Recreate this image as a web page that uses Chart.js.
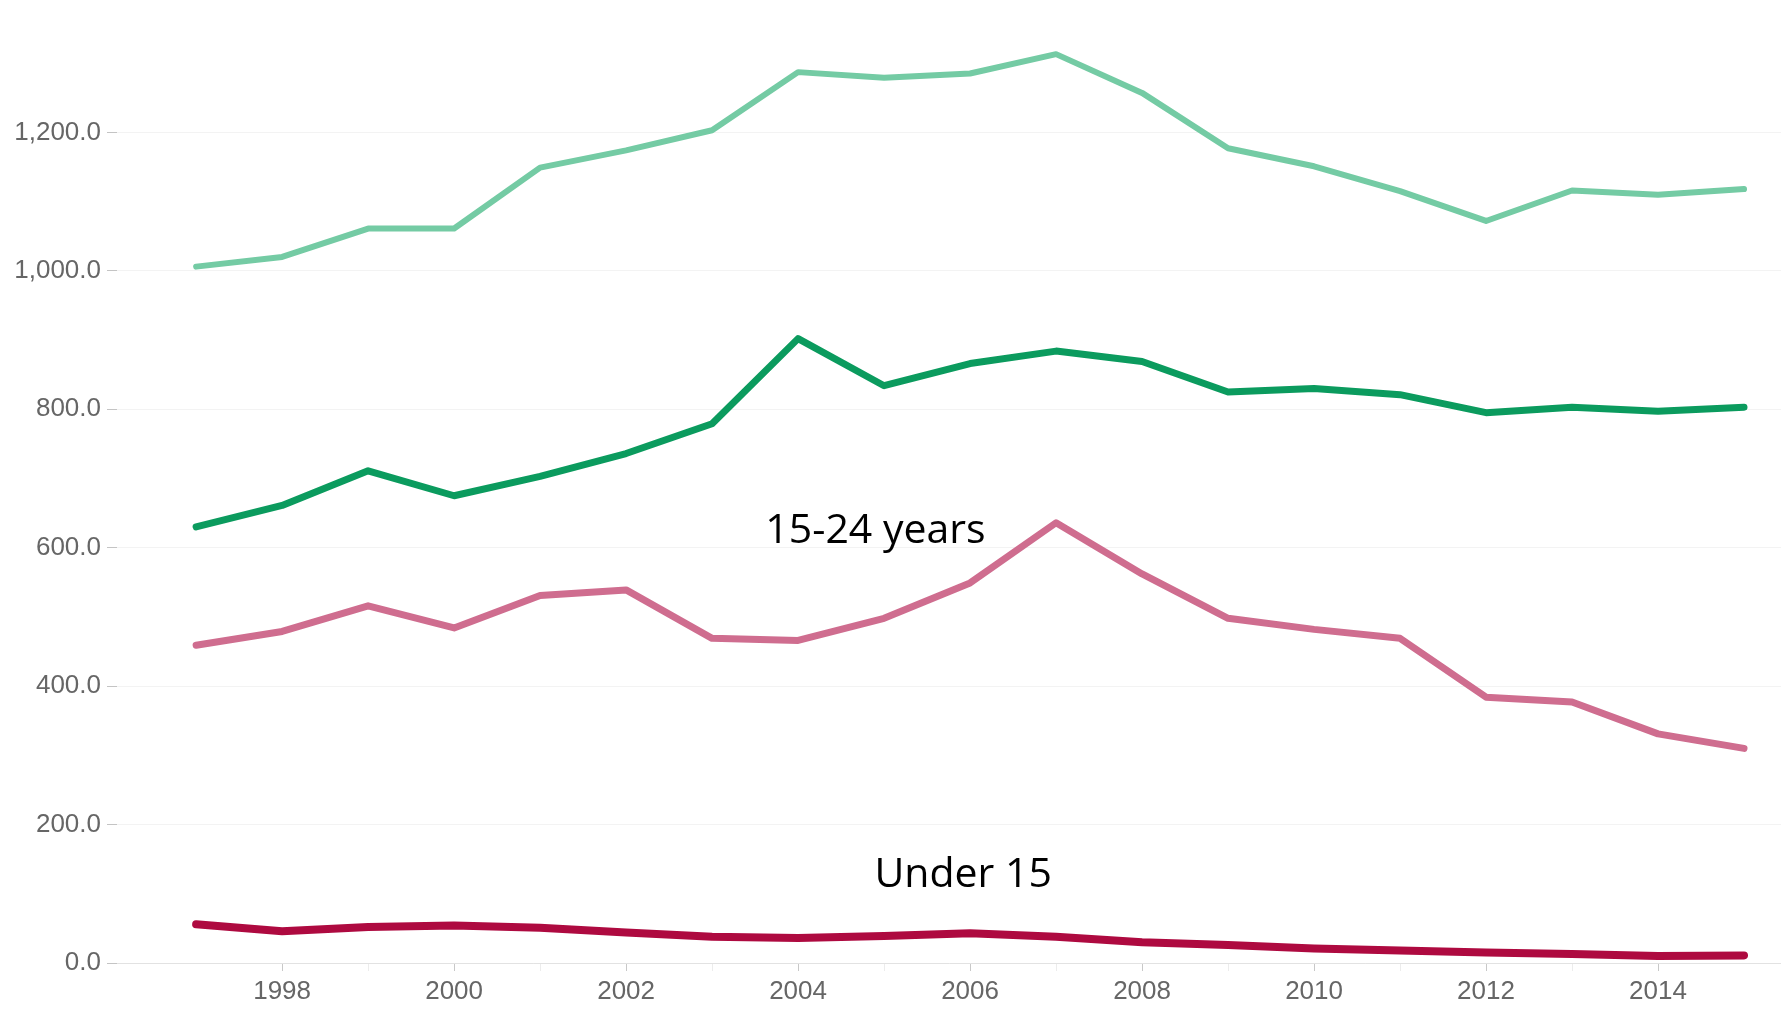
<!DOCTYPE html>
<html>
<head>
<meta charset="utf-8">
<script src="https://cdn.jsdelivr.net/npm/chart.js@4/dist/chart.umd.min.js"></script>
<style>
  body { margin: 0; background: #fff; }
  .grafico { width: 1781px; height: 1030px; position: relative; }
</style>
</head>
<body>
<div class="grafico"><canvas id="graficoIdade"></canvas></div>
<script>
// dados
const anos = [1997, 1998, 1999, 2000, 2001, 2002, 2003, 2004, 2005, 2006, 2007, 2008, 2009, 2010, 2011, 2012, 2013, 2014, 2015];

const serieVerdeClaro = [1006, 1020, 1061, 1061, 1149, 1174, 1203, 1287, 1279, 1285, 1313, 1257, 1177, 1151, 1115, 1072, 1116, 1110, 1118];
const serieVerde = [630, 661, 711, 675, 703, 736, 779, 902, 834, 866, 884, 869, 825, 830, 821, 795, 803, 797, 803];
const serie15a24 = [459, 479, 516, 484, 531, 539, 469, 466, 498, 549, 636, 562, 498, 482, 469, 384, 377, 331, 310];
const serieMenor15 = [56, 46, 52, 54, 51, 44, 38, 36, 39, 43, 38, 30, 26, 21, 18, 15, 13, 10, 11];

const valoresEixoY = [0, 200, 400, 600, 800, 1000, 1200];

const rotulos = [
  { texto: '15-24 years', ano: 2004.9, valor: 624 },
  { texto: 'Under 15', ano: 2005.92, valor: 127 },
];

function linha(valores, cor, largura) {
  return {
    data: valores.map((v, i) => ({ x: anos[i], y: v })),
    borderColor: cor,
    backgroundColor: cor,
    borderWidth: largura,
    pointRadius: 0,
    tension: 0,
    borderJoinStyle: 'round',
    borderCapStyle: 'round',
  };
}

// escreve os rotulos das series
const pluginRotulos = {
  id: 'pluginRotulos',
  afterDatasetsDraw(chart) {
    const { ctx, scales: { x, y } } = chart;
    ctx.save();
    ctx.font = '41px "Open Sans"';
    ctx.fillStyle = '#000';
    ctx.textAlign = 'center';
    ctx.textBaseline = 'middle';
    rotulos.forEach(r => {
      ctx.fillText(r.texto, x.getPixelForValue(r.ano), y.getPixelForValue(r.valor));
    });
    ctx.restore();
  }
};

const fonteEixo = { family: '"Liberation Sans", Arial, sans-serif', size: 26 };

const config = {
  type: 'line',
  data: {
    datasets: [
      linha(serieVerdeClaro, '#74cba4', 6),
      linha(serieVerde, '#0b9b5e', 7),
      linha(serie15a24, '#cf6d8f', 7),
      linha(serieMenor15, '#ae0a40', 8),
    ]
  },
  options: {
    responsive: true,
    maintainAspectRatio: false,
    animation: false,
    layout: { padding: 0 },
    plugins: {
      legend: { display: false },
      tooltip: { enabled: false },
    },
    scales: {
      x: {
        type: 'linear',
        min: 1996.08,
        max: 2015.43,
        afterBuildTicks: s => { s.ticks = s.ticks.filter(t => Number.isInteger(t.value)); },
        afterFit: s => { s.height = 67; },
        border: { display: true, color: '#e2e2e2', width: 1 },
        grid: {
          drawOnChartArea: false,
          tickLength: 8,
          tickColor: c => (c.tick && c.tick.value % 2 === 0) ? '#c8c8c8' : '#ececec',
        },
        ticks: {
          stepSize: 1,
          autoSkip: false,
          maxRotation: 0,
          padding: 5,
          color: '#666',
          font: fonteEixo,
          callback: v => v % 2 === 0 ? String(v) : '',
        }
      },
      y: {
        min: 0,
        max: 1360,
        afterBuildTicks: s => { s.ticks = valoresEixoY.map(v => ({ value: v })); },
        afterFit: s => { s.width = 117; },
        border: { display: false },
        grid: {
          color: '#f3f3f3',
          tickLength: 10,
          tickColor: '#c4c4c4',
        },
        ticks: {
          autoSkip: false,
          padding: 6,
          color: '#666',
          font: fonteEixo,
          callback: v => v.toLocaleString('en-US', { minimumFractionDigits: 1, maximumFractionDigits: 1 }),
        }
      }
    }
  },
  plugins: [pluginRotulos]
};

const graficoIdade = new Chart(document.getElementById('graficoIdade'), config);
</script>
</body>
</html>
